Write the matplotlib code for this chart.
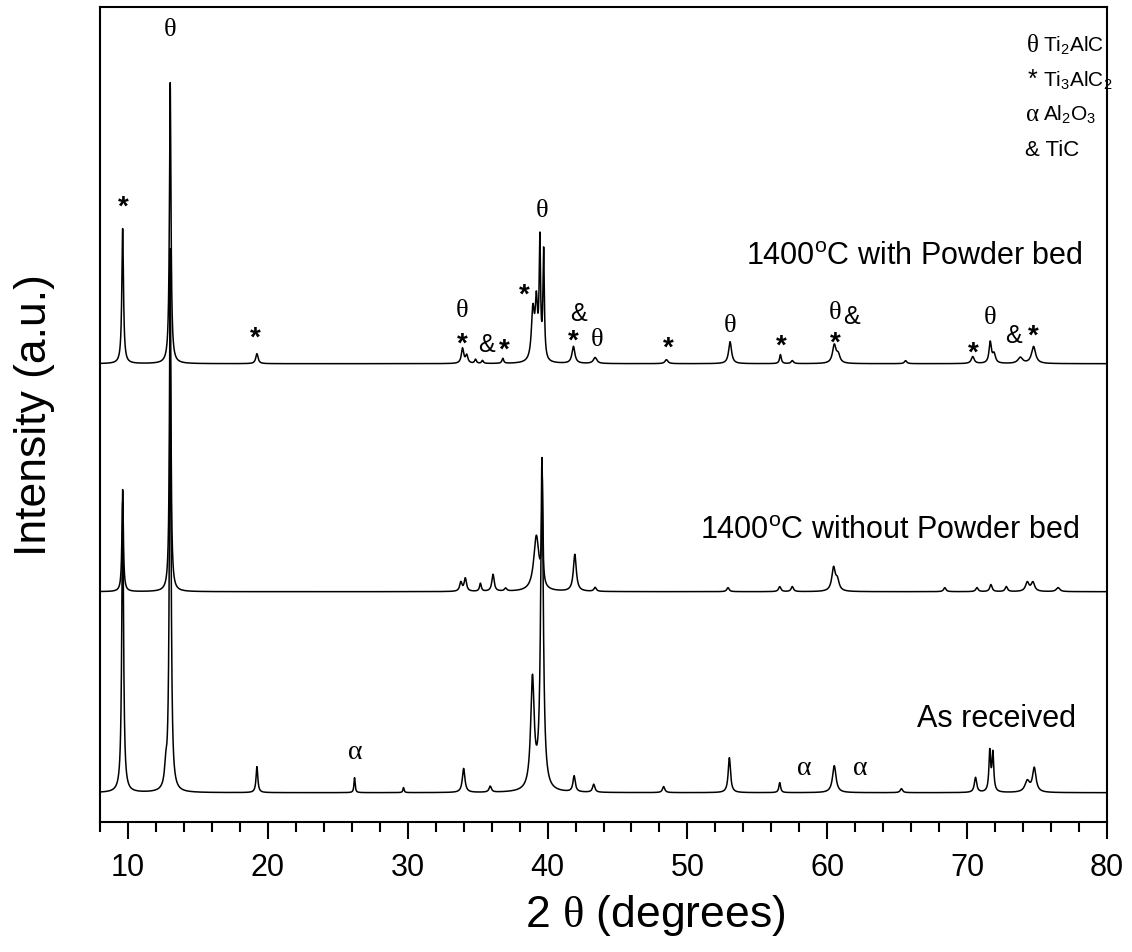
import numpy as np
import matplotlib
matplotlib.use("Agg")
import matplotlib.pyplot as plt
from matplotlib.ticker import MultipleLocator

plt.rcParams['font.family'] = ['Liberation Sans', 'DejaVu Sans']
plt.rcParams['mathtext.fontset'] = 'custom'
plt.rcParams['mathtext.rm'] = 'Liberation Sans'
plt.rcParams['mathtext.it'] = 'Liberation Sans:italic'
plt.rcParams['mathtext.bf'] = 'Liberation Sans:bold'
plt.rcParams['mathtext.sf'] = 'Liberation Serif'

DPI = 100

# 2-theta grid for drawing the patterns
two_theta = np.arange(8.0, 80.001, 0.01)

# --- 1400 C with powder bed (top) : peak position, height, width ---
with_bed_pos = [9.62, 13.02, 19.22, 33.92, 34.22, 34.85, 35.35, 36.8, 38.95, 39.2,
                39.45, 39.72, 41.85, 43.4, 48.5, 53.05, 56.65, 57.5, 60.5, 60.78,
                65.6, 70.4, 71.65, 71.92, 73.8, 74.75]
with_bed_h = [135, 281, 10, 15, 8, 4, 3, 5, 50, 55,
              116, 108, 17, 6, 4, 22, 9, 3, 18, 8,
              3, 7, 21, 9, 6, 17]
with_bed_w = [0.14, 0.13, 0.2, 0.2, 0.2, 0.15, 0.15, 0.15, 0.25, 0.2,
              0.12, 0.12, 0.25, 0.3, 0.25, 0.25, 0.15, 0.2, 0.3, 0.3,
              0.2, 0.25, 0.2, 0.25, 0.4, 0.35]

# --- 1400 C without powder bed (middle) ---
no_bed_pos = [9.62, 13.02, 33.8, 34.12, 35.2, 36.1, 37.0, 39.2, 39.62, 41.95,
              43.4, 52.9, 56.6, 57.5, 60.45, 60.72, 68.4, 70.7, 71.7, 72.8,
              74.3, 74.7, 76.5]
no_bed_h = [102, 343, 9, 13, 8, 17, 3, 55, 102, 37,
            4, 4, 5, 5, 23, 10, 4, 4, 7, 5,
            9, 9, 4]
no_bed_w = [0.12, 0.12, 0.2, 0.2, 0.15, 0.2, 0.2, 0.45, 0.1, 0.25,
            0.2, 0.2, 0.2, 0.2, 0.3, 0.3, 0.2, 0.2, 0.2, 0.2,
            0.3, 0.3, 0.3]

# --- As received (bottom) ---
received_pos = [9.62, 12.7, 13.02, 19.22, 26.2, 29.7, 34.0, 35.9, 38.92, 39.6,
                41.9, 43.3, 48.3, 53.0, 56.6, 60.5, 65.3, 70.6, 71.62, 71.84,
                74.3, 74.8]
received_h = [290, 18, 430, 26, 15, 5, 24, 6, 110, 330,
              16, 8, 6, 35, 10, 27, 4, 15, 40, 38,
              11, 24]
received_w = [0.15, 0.2, 0.15, 0.15, 0.1, 0.1, 0.22, 0.2, 0.3, 0.22,
              0.2, 0.2, 0.2, 0.2, 0.15, 0.3, 0.2, 0.2, 0.15, 0.15,
              0.4, 0.3]

# vertical offsets of the stacked patterns
offsets = {'received': 29, 'no_bed': 230, 'with_bed': 458}

# phase markers: symbol, 2-theta, height (centre of glyph)
with_bed_marks = [('*', 9.64, 623.7), ('θ', 12.98, 795.7), ('*', 19.12, 492.7),
                  ('θ', 33.89, 514.7), ('*', 33.89, 486.7), ('&', 35.62, 479.7),
                  ('*', 36.91, 480.7), ('*', 38.36, 535.7), ('θ', 39.6, 614.7),
                  ('&', 42.21, 510.7), ('*', 41.86, 489.7), ('θ', 43.57, 485.7),
                  ('*', 48.6, 482.7), ('θ', 53.05, 499.7), ('*', 56.69, 484.7),
                  ('θ', 60.55, 512.7), ('&', 61.74, 507.7), ('*', 60.55, 487.7),
                  ('*', 70.43, 477.7), ('θ', 71.62, 507.7), ('&', 73.29, 488.7),
                  ('*', 74.76, 494.7)]
received_marks = [('α', 26.26, 69.7), ('α', 58.32, 53.7), ('α', 62.38, 53.7)]

legend_symbols = ['θ', '*', 'α', '&']
legend_names = ['Ti$_2$AlC', 'Ti$_3$AlC$_2$', 'Al$_2$O$_3$', 'TiC']

mark_style = {
    '*': dict(family='Liberation Sans', weight='bold', size=20, off=0.57),
    'θ': dict(family='Liberation Serif', weight='normal', size=19, off=0.35),
    '&': dict(family='Liberation Sans', weight='normal', size=18, off=0.36),
    'α': dict(family='Liberation Serif', weight='normal', size=20, off=0.23),
}


def pattern(pos, h, w):
    y = np.zeros_like(two_theta)
    for p, a, fw in zip(pos, h, w):
        y += a / (1 + ((two_theta - p) / (fw / 2)) ** 2)
    return y


def put_mark(ax, sym, x, yc):
    st = mark_style[sym]
    ax.text(x, yc - st['off'] * st['size'] * DPI / 72, sym, ha='center', va='baseline',
            family=st['family'], weight=st['weight'], fontsize=st['size'])


fig = plt.figure(figsize=(11.32, 9.53), dpi=DPI)
ax = fig.add_axes([100 / 1132, 130.3 / 953, 1007 / 1132, 814.7 / 953])

ax.plot(two_theta, pattern(received_pos, received_h, received_w) + offsets['received'],
        color='black', lw=1.1)
ax.plot(two_theta, pattern(no_bed_pos, no_bed_h, no_bed_w) + offsets['no_bed'],
        color='black', lw=1.1)
ax.plot(two_theta, pattern(with_bed_pos, with_bed_h, with_bed_w) + offsets['with_bed'],
        color='black', lw=1.1)

for sym, x, yc in with_bed_marks + received_marks:
    put_mark(ax, sym, x, yc)

ax.text(78.26, 557.7, '1400$^\\mathrm{o}$C with Powder bed', ha='right', va='baseline', fontsize=22)
ax.text(78.05, 283.7, '1400$^\\mathrm{o}$C without Powder bed', ha='right', va='baseline', fontsize=22)
ax.text(77.76, 95.7, 'As received', ha='right', va='baseline', fontsize=22)

# phase legend in the upper right corner
for i, (sym, name) in enumerate(zip(legend_symbols, legend_names)):
    yb = 1 - (52 + 34.5 * i - 8) / 814.7
    if sym == '&':
        ax.text(0.919, yb, '& ' + name, transform=ax.transAxes, ha='left', va='baseline',
                fontsize=16)
        continue
    fam = 'Liberation Sans' if sym == '*' else 'Liberation Serif'
    ax.text(0.926, yb, sym, transform=ax.transAxes, ha='center', va='baseline',
            family=fam, fontsize=18)
    ax.text(0.9365, yb, name, transform=ax.transAxes, ha='left', va='baseline',
            fontsize=15)

ax.set_xlim(8, 80)
ax.set_ylim(0, 814.7)
ax.xaxis.set_major_locator(MultipleLocator(10))
ax.xaxis.set_minor_locator(MultipleLocator(2))
ax.tick_params(axis='x', which='major', direction='out', length=12, width=1.5,
               labelsize=22, pad=10)
ax.tick_params(axis='x', which='minor', direction='out', length=7, width=1.5)
ax.tick_params(axis='y', left=False, labelleft=False)
for sp in ax.spines.values():
    sp.set_linewidth(1.5)

ax.set_xlabel('2 $\\mathsf{\\theta}$ (degrees)', fontsize=32)
ax.xaxis.set_label_coords(0.551, -0.086)
ax.set_ylabel('Intensity (a.u.)', fontsize=32)
ax.yaxis.set_label_coords(-0.045, 0.5)

fig.savefig('out.png', dpi=DPI)
